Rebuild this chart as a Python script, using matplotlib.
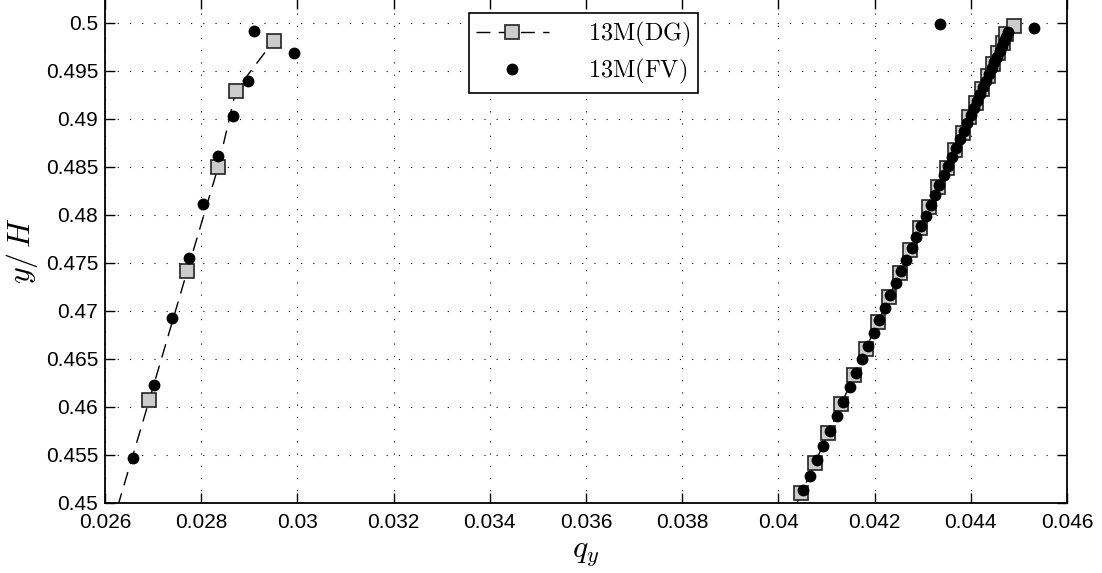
import numpy as np
import matplotlib
matplotlib.use("Agg")
import matplotlib.pyplot as plt
from matplotlib.ticker import FuncFormatter

plt.rcParams["font.family"] = ["Liberation Sans", "DejaVu Sans"]
plt.rcParams["mathtext.fontset"] = "cm"

# --------------------------------------------------------------
# Data: 13M(DG), left and right branches
# --------------------------------------------------------------
dg_left_q = [0.02613, 0.02692, 0.02771, 0.02835, 0.02872, 0.02951]
dg_left_y = [0.4474, 0.46070, 0.47417, 0.48494, 0.49292, 0.49812]

dg_right_q = [0.04020, 0.04048, 0.04076, 0.04104, 0.04131, 0.04158, 0.04182,
              0.04207, 0.04230, 0.04252, 0.04274, 0.04294, 0.04313, 0.04332,
              0.04350, 0.04367, 0.04383, 0.04397, 0.04410, 0.04423, 0.04435,
              0.04446, 0.04456, 0.04466, 0.04474, 0.04490]
dg_right_y = [0.4479, 0.45104, 0.45417, 0.45726, 0.46033, 0.46330, 0.46606,
              0.46882, 0.47143, 0.47393, 0.47632, 0.47861, 0.48080, 0.48289,
              0.48492, 0.48679, 0.48856, 0.49018, 0.49169, 0.49309, 0.49445,
              0.49570, 0.49684, 0.49789, 0.49882, 0.49966]

# --------------------------------------------------------------
# Data: 13M(FV)
# --------------------------------------------------------------
fv_left_q = [0.02659, 0.02702, 0.02740, 0.02774, 0.02804, 0.02835, 0.02867,
             0.02898, 0.02909, 0.02993]
fv_left_y = [0.45473, 0.46226, 0.46921, 0.47552, 0.48115, 0.48608, 0.49031,
             0.49393, 0.49910, 0.49688]

fv_right_q = [0.04052, 0.04066, 0.04080, 0.04093, 0.04107, 0.04121, 0.04134,
              0.04148, 0.04161, 0.04174, 0.04186, 0.04198, 0.04210, 0.04221,
              0.04233, 0.04244, 0.04255, 0.04266, 0.04277, 0.04287, 0.04297,
              0.04307, 0.04317, 0.04326, 0.04335, 0.04344, 0.04353, 0.04362,
              0.04370, 0.04378, 0.04386, 0.04393, 0.04400, 0.04407, 0.04414,
              0.04420, 0.04426, 0.04432, 0.04438, 0.04444, 0.04449, 0.04454,
              0.04460, 0.04464, 0.04469, 0.04473, 0.04477, 0.04337, 0.04531]
fv_right_y = [0.45132, 0.45283, 0.45445, 0.45596, 0.45752, 0.45903, 0.46054,
              0.46205, 0.46351, 0.46497, 0.46632, 0.46768, 0.46903, 0.47033,
              0.47164, 0.47289, 0.47414, 0.47533, 0.47653, 0.47768, 0.47882,
              0.47992, 0.48101, 0.48205, 0.48309, 0.48410, 0.48513, 0.48606,
              0.48700, 0.48789, 0.48877, 0.48957, 0.49039, 0.49114, 0.49190,
              0.49259, 0.49330, 0.49398, 0.49466, 0.49528, 0.49591, 0.49648,
              0.49705, 0.49757, 0.49809, 0.49856, 0.49903, 0.49983, 0.49948]

x_ticks = [0.026, 0.028, 0.030, 0.032, 0.034, 0.036, 0.038, 0.040, 0.042, 0.044, 0.046]
y_ticks = [0.45, 0.455, 0.46, 0.465, 0.47, 0.475, 0.48, 0.485, 0.49, 0.495, 0.5]

# --------------------------------------------------------------
# Plot
# --------------------------------------------------------------
fig = plt.figure(figsize=(11.02, 5.73), dpi=100)
ax = fig.add_axes([0.0953, 0.1222, 0.8729, 0.8801])

dg_style = dict(color="black", lw=1.0, dashes=(10, 6), marker="s", ms=10,
                mfc="#cccccc", mec="#222222", mew=1.2)
ax.plot(dg_left_q, dg_left_y, markevery=list(range(1, len(dg_left_q))),
        label=r"$\mathrm{13M(DG)}$", **dg_style)
ax.plot(dg_right_q, dg_right_y, markevery=list(range(1, len(dg_right_q))),
        **dg_style)

fv_style = dict(ls="none", marker="o", ms=7.5, color="black")
ax.plot(fv_left_q, fv_left_y, label=r"$\mathrm{13M(FV)}$", **fv_style)
ax.plot(fv_right_q, fv_right_y, **fv_style)

ax.set_xlim(0.026, 0.046)
ax.set_ylim(0.45, 0.5025)
ax.set_xticks(x_ticks)
ax.set_yticks(y_ticks)
fmt = FuncFormatter(lambda v, p: "%g" % round(v, 4))
ax.xaxis.set_major_formatter(fmt)
ax.yaxis.set_major_formatter(fmt)
ax.tick_params(direction="in", length=7, width=1, top=True, right=True,
               labelsize=15)
ax.tick_params(axis="x", pad=7)
ax.tick_params(axis="y", pad=5)
for s in ax.spines.values():
    s.set_linewidth(1.3)
ax.grid(True, color="black", lw=0.8, linestyle=(0, (1, 10)))

ax.set_xlabel(r"$q_y$", fontsize=23, labelpad=5)
ax.set_ylabel(r"$y/\,H$", fontsize=23, labelpad=4)

leg = ax.legend(loc="upper left", bbox_to_anchor=(0.378, 0.972),
                borderaxespad=0, fontsize=17.5, fancybox=False, framealpha=1,
                edgecolor="black", handlelength=3.0, handletextpad=1.6,
                borderpad=0.3, labelspacing=0.3)
leg.get_frame().set_linewidth(1.2)

fig.savefig("out.png", dpi=100)
